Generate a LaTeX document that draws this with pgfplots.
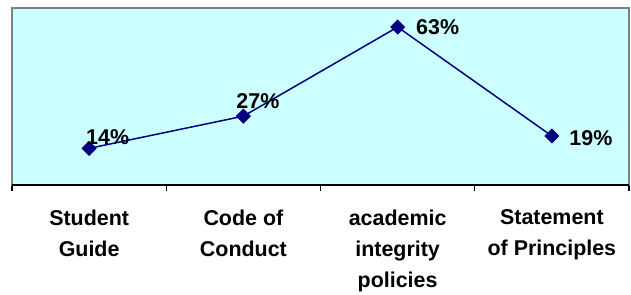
\documentclass[border=0pt]{standalone}
\usepackage{pgfplots}
\pgfplotsset{compat=1.18}
\usepackage{pgfplotstable}
\usepackage{fontspec}
\setmainfont{Liberation Sans}
\definecolor{bgcyan}{HTML}{CCFFFF}
\definecolor{navyline}{HTML}{000080}
\pgfplotstableread{
x y dx dy
0 14 18.5 11.5
1 27 14.5 15.5
2 63 40 0
3 19 39 -2
}\datatable
\begin{document}
\begin{tikzpicture}
\begin{axis}[
  scale only axis,
  width=617bp, height=177bp,
  xmin=-0.5, xmax=3.5,
  ymin=-0.8, ymax=70.7,
  axis background/.style={fill=bgcyan},
  axis line style={line width=1.2bp, draw=black!50},
  ytick=\empty,
  xtick pos=bottom,
  xtick={0,1,2,3},
  xticklabels={{Student\\Guide},{Code of\\Conduct},{academic\\integrity\\policies},{Statement\\of Principles}},
  major x tick style={draw=none},
  minor xtick={-0.5,0.5,1.5,2.5,3.5},
  minor x tick style={black, line width=1.2bp},
  minor tick length=6bp,
  tick align=outside,
  x tick label style={font=\fontsize{21.5}{31}\selectfont\bfseries, align=center, anchor=north, yshift=-17bp},
  clip=false,
  point meta=explicit,
  nodes near coords={\pgfmathprintnumber[assume math mode=true]{\pgfplotspointmeta}\%},
  visualization depends on={\thisrow{dx} \as \dx},
  visualization depends on={\thisrow{dy} \as \dy},
  every node near coord/.append style={font=\fontsize{21.5}{25}\selectfont\bfseries, black, anchor=center, xshift=\dx bp, yshift=\dy bp, inner sep=0pt},
  after end axis/.code={\draw[black, line width=2bp] (rel axis cs:0,0) -- (rel axis cs:1,0);},
]
\addplot[navyline, line width=1.5bp, mark=square*, mark size=4.6bp, mark options={rotate=45, fill=navyline, draw=navyline}] table[x=x, y=y, meta=y] {\datatable};
\end{axis}
\path ([xshift=-12bp, yshift=8bp]current axis.north west) circle (0pt);
\path ([xshift=2bp, yshift=-104bp]current axis.south east) circle (0pt);
\end{tikzpicture}
\end{document}
